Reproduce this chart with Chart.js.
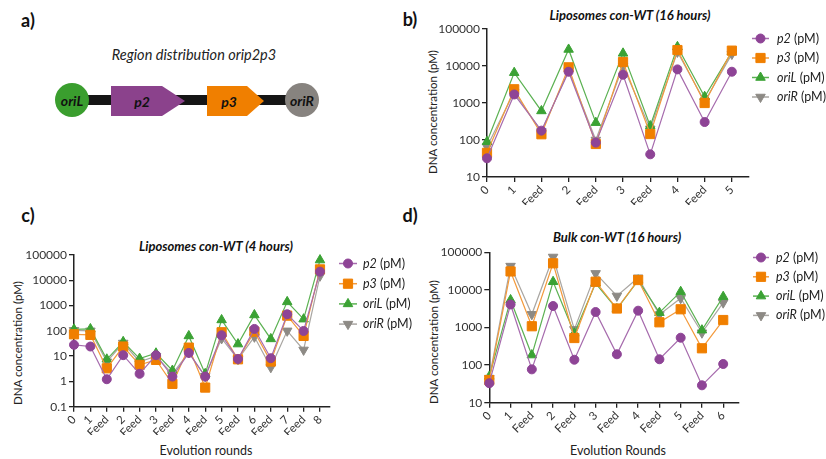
<!DOCTYPE html>
<html>
<head>
<meta charset="utf-8">
<script src="https://cdn.jsdelivr.net/npm/chart.js@4"></script>
<style>
    html, body { margin: 0; padding: 0; background: #fff; }
    #page { position: relative; width: 826px; height: 459px; overflow: hidden; font-family: Lato, "Noto Sans", sans-serif; color: #222; }
    canvas { position: absolute; }
    .t { position: absolute; transform: translate(-50%, -50%); white-space: nowrap; }
    .panel { font-weight: bold; font-size: 18px; color: #111; }
    .title { font-weight: bold; font-style: italic; font-size: 13px; color: #111; }
    .ytitle { font-size: 11.5px; transform: translate(-50%, -50%) rotate(-90deg); }
    .xtitle { font-size: 12.5px; }
</style>
</head>
<body>
<div id="page">
    <!-- panel labels -->
    <div class="t panel" style="left:28px;top:20px">a)</div>
    <div class="t panel" style="left:410px;top:19px">b)</div>
    <div class="t panel" style="left:28px;top:215px">c)</div>
    <div class="t panel" style="left:410px;top:215px">d)</div>

    <!-- a) construct diagram -->
    <div class="t" style="left:194px;top:54px;font-style:italic;font-size:14.5px;">Region distribution orip2p3</div>
    <svg width="400" height="200" style="position:absolute;left:0;top:0">
        <rect x="72" y="95" width="230" height="10" fill="#151515"/>
        <polygon points="111,86 162,86 185,101 162,116 111,116" fill="#8B428C"/>
        <polygon points="207,86 247,86 264,101 247,116 207,116" fill="#F07F00"/>
        <circle cx="72" cy="100" r="17" fill="#3A9E2E"/>
        <circle cx="302" cy="100" r="17" fill="#87837F"/>
        <g font-family="Lato" font-weight="bold" font-style="italic" font-size="14" fill="#111" text-anchor="middle" dominant-baseline="central">
            <text x="72" y="100">oriL</text>
            <text x="142" y="101">p2</text>
            <text x="229" y="101">p3</text>
            <text x="302" y="100">oriR</text>
        </g>
    </svg>

    <!-- b) -->
    <div class="t title" style="left:630px;top:15px">Liposomes con-WT (16 hours)</div>
    <div class="t ytitle" style="left:432px;top:112px">DNA concentration (pM)</div>
    <canvas id="chartB" style="left:400px;top:0px"></canvas>

    <!-- c) -->
    <div class="t title" style="left:216px;top:246px">Liposomes con-WT (4 hours)</div>
    <div class="t ytitle" style="left:17px;top:343px">DNA concentration (pM)</div>
    <div class="t xtitle" style="left:206px;top:450px">Evolution rounds</div>
    <canvas id="chartC" style="left:0px;top:225px"></canvas>

    <!-- d) -->
    <div class="t title" style="left:617px;top:237px">Bulk con-WT (16 hours)</div>
    <div class="t ytitle" style="left:433px;top:342px">DNA concentration (pM)</div>
    <div class="t xtitle" style="left:618px;top:450px">Evolution Rounds</div>
    <canvas id="chartD" style="left:410px;top:225px"></canvas>
</div>

<script>
// ---- data ----
const seriesNames = ['p2', 'p3', 'oriL', 'oriR'];

// b) Liposomes con-WT (16 hours)
const roundsB = ['0', '1', 'Feed', '2', 'Feed', '3', 'Feed', '4', 'Feed', '5'];
const p2B   = [32, 1700, 179, 7000, 85, 5800, 41, 8100, 306, 7000];
const p3B   = [45, 2350, 143, 9200, 78, 12800, 145, 27000, 1000, 26000];
const oriLB = [90, 6600, 610, 28000, 294, 22000, 239, 33000, 1480, 24000];
const oriRB = [66, 2000, 170, 7500, 100, 10000, 200, 24000, 1100, 21000];
const yTicksB = [10, 100, 1000, 10000, 100000];

// c) Liposomes con-WT (4 hours)
const roundsC = ['0', '1', 'Feed', '2', 'Feed', '3', 'Feed', '4', 'Feed', '5', 'Feed', '6', 'Feed', '7', 'Feed', '8'];
const p2C   = [28, 24, 1.22, 10.9, 2.0, 10.9, 1.55, 13.4, 1.55, 67, 7.7, 119, 8.3, 453, 99, 22000];
const p3C   = [73, 69, 3.3, 24, 4.5, 7.1, 0.8, 21.7, 0.57, 88, 7.5, 93, 6.1, 400, 63, 27000];
const oriLC = [115, 119, 7.5, 37, 8, 13, 2.7, 63, 2.0, 270, 30, 425, 48, 1400, 290, 63000];
const oriRC = [105, 100, 6, 33, 6, 10, 2.0, 14, 1.6, 50, 7.5, 58, 3.6, 100, 17.6, 15000];
const yTicksC = [0.1, 1, 10, 100, 1000, 10000, 100000];

// d) Bulk con-WT (16 hours)
const roundsD = ['0', '1', 'Feed', '2', 'Feed', '3', 'Feed', '4', 'Feed', '5', 'Feed', '6'];
const p2D   = [33, 4100, 77, 3730, 139, 2580, 194, 2800, 143, 535, 29, 107];
const p3D   = [40, 31000, 1080, 51000, 525, 16500, 3200, 18300, 1375, 3050, 280, 1580];
const oriLD = [50, 5400, 185, 16500, 700, 15000, 3100, 18000, 2480, 8960, 850, 6600];
const oriRD = [45, 43000, 2240, 75000, 890, 27500, 6900, 21000, 2200, 6000, 725, 4570];
const yTicksD = [10, 100, 1000, 10000, 100000];

// ---- styling ----
const FONT = 'Lato, "Noto Sans", sans-serif';
const AXIS = '#222';
const styles = [
    { line: '#A66BAD', fill: '#8E4496', pointStyle: 'circle',   radius: 4.5, rotation: 0 },
    { line: '#F39A3C', fill: '#F07F00', pointStyle: 'rect',     radius: 6.5, rotation: 0 },
    { line: '#5BB152', fill: '#3BA234', pointStyle: 'triangle', radius: 5.5, rotation: 0 },
    { line: '#A9A6A2', fill: '#8D8A85', pointStyle: 'triangle', radius: 5.5, rotation: 180 }
];

// legend drawn next to plot: line, marker, italic name + " (pM)"
const sideLegend = {
    id: 'sideLegend',
    afterDraw(chart, args, o) {
        const ctx = chart.ctx;
        chart.data.datasets.forEach((ds, i) => {
            const y = o.top + i * o.gap;
            ctx.save();
            ctx.strokeStyle = ds.borderColor;
            ctx.lineWidth = 1.5;
            ctx.beginPath();
            ctx.moveTo(o.x0, y);
            ctx.lineTo(o.x1, y);
            ctx.stroke();
            ctx.fillStyle = ds.pointBackgroundColor;
            ctx.strokeStyle = ds.pointBorderColor;
            ctx.lineWidth = 1;
            Chart.helpers.drawPoint(ctx, {
                pointStyle: ds.pointStyle, rotation: ds.pointRotation, radius: ds.pointRadius, borderWidth: 1
            }, (o.x0 + o.x1) / 2, y);
            ctx.fillStyle = '#222';
            ctx.textBaseline = 'middle';
            ctx.font = 'italic 12.5px ' + FONT;
            ctx.fillText(ds.label, o.textX, y);
            const w = ctx.measureText(ds.label).width;
            ctx.font = '12.5px ' + FONT;
            ctx.fillText(' (pM)', o.textX + w, y);
            ctx.restore();
        });
    }
};

function makeChart(id, size, area, rounds, series, yTicks, xMax, legend) {
    const canvas = document.getElementById(id);
    canvas.width = size.w;
    canvas.height = size.h;
    canvas.style.width = size.w + 'px';
    canvas.style.height = size.h + 'px';

    const datasets = series.map((vals, i) => ({
        label: seriesNames[i],
        data: vals.map((v, k) => ({ x: k, y: v })),
        borderColor: styles[i].line,
        borderWidth: 1.2,
        pointStyle: styles[i].pointStyle,
        pointRotation: styles[i].rotation,
        pointRadius: styles[i].radius,
        pointBackgroundColor: styles[i].fill,
        pointBorderColor: styles[i].fill,
        pointBorderWidth: 1,
        tension: 0,
        clip: false
    }));

    return new Chart(canvas, {
        type: 'line',
        data: { datasets },
        plugins: [sideLegend],
        options: {
            responsive: false,
            animation: false,
            events: [],
            layout: {
                padding: { top: area.top, left: 0, right: size.w - area.right, bottom: 0 }
            },
            plugins: {
                legend: { display: false },
                tooltip: { enabled: false },
                sideLegend: legend
            },
            scales: {
                x: {
                    type: 'linear',
                    min: 0,
                    max: xMax,
                    afterBuildTicks: s => { s.ticks = rounds.map((r, k) => ({ value: k })); },
                    afterFit: s => { s.height = size.h - area.bottom; },
                    border: { display: true, color: AXIS, width: 1.5 },
                    grid: { drawOnChartArea: false, drawTicks: true, tickLength: 5, color: AXIS, lineWidth: 1.3 },
                    ticks: {
                        autoSkip: false,
                        minRotation: 45,
                        maxRotation: 45,
                        padding: 1,
                        color: '#333',
                        font: { family: FONT, size: 11.5 },
                        callback: v => rounds[v]
                    }
                },
                y: {
                    type: 'logarithmic',
                    min: yTicks[0],
                    max: yTicks[yTicks.length - 1],
                    afterBuildTicks: s => { s.ticks = yTicks.map(v => ({ value: v })); },
                    afterFit: s => { s.width = area.left; },
                    border: { display: true, color: AXIS, width: 1.5 },
                    grid: { drawOnChartArea: false, drawTicks: true, tickLength: 5, color: AXIS, lineWidth: 1.3 },
                    ticks: {
                        padding: 2,
                        color: '#333',
                        font: { family: FONT, size: 12 },
                        callback: v => String(v)
                    }
                }
            }
        }
    });
}

// positions are in canvas pixels
makeChart('chartB', { w: 426, h: 205 }, { left: 87, right: 349, top: 29, bottom: 177 },
    roundsB, [p2B, p3B, oriLB, oriRB], yTicksB, 9.63,
    { x0: 352, x1: 369, textX: 377, top: 38.5, gap: 19.5 });

makeChart('chartC', { w: 420, h: 210 }, { left: 74, right: 330, top: 30, bottom: 181.7 },
    roundsC, [p2C, p3C, oriLC, oriRC], yTicksC, 15.61,
    { x0: 339, x1: 357, textX: 363, top: 38.5, gap: 20.2 });

makeChart('chartD', { w: 416, h: 210 }, { left: 79.3, right: 328.3, top: 27.3, bottom: 177.7 },
    roundsD, [p2D, p3D, oriLD, oriRD], yTicksD, 11.71,
    { x0: 343, x1: 359, textX: 366, top: 32.5, gap: 19.3 });
</script>
</body>
</html>
